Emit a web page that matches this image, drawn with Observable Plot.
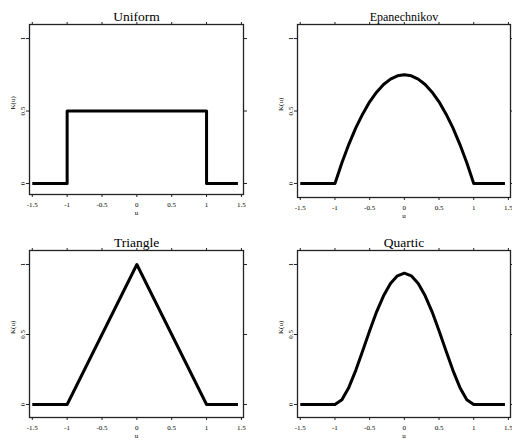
<!DOCTYPE html>
<html>
<head>
<meta charset="utf-8">
<script src="https://cdn.jsdelivr.net/npm/d3@7"></script>
<script src="https://cdn.jsdelivr.net/npm/@observablehq/plot@0.6"></script>
<style>
  html, body { margin: 0; padding: 0; background: #fff; }
  #wrap { position: relative; width: 512px; height: 442px; overflow: hidden; background: #fff; }
  .panel { position: absolute; width: 256px; height: 221px; }
  #wrap svg, #wrap svg text { font-family: "Liberation Serif", "DejaVu Serif", serif !important; }
</style>
</head>
<body>
<div id="wrap"></div>
<script>
// ---- data ----
const titles = ["Uniform", "Epanechnikov", "Triangle", "Quartic"];

const uniformU = [-1.5, -1, -1, 1, 1, 1.45];
const uniformK = [0, 0, 0.5, 0.5, 0, 0];

const triangleU = [-1.5, -1, 0, 1, 1.45];
const triangleK = [0, 0, 1, 0, 0];

const smoothU = [-1.5, -1, -0.9, -0.8, -0.7, -0.6, -0.5, -0.4, -0.3, -0.2, -0.1, 0,
                 0.1, 0.2, 0.3, 0.4, 0.5, 0.6, 0.7, 0.8, 0.9, 1, 1.45];
const epanK = [0, 0, 0.143, 0.27, 0.383, 0.48, 0.563, 0.63, 0.683, 0.72, 0.743, 0.75,
               0.743, 0.72, 0.683, 0.63, 0.563, 0.48, 0.383, 0.27, 0.143, 0, 0];
const quarticK = [0, 0, 0.034, 0.122, 0.244, 0.384, 0.527, 0.662, 0.776, 0.864, 0.919, 0.938,
                  0.919, 0.864, 0.776, 0.662, 0.527, 0.384, 0.244, 0.122, 0.034, 0, 0];

const xTickValues = [-1.5, -1, -0.5, 0, 0.5, 1, 1.5];
const xTickLabels = ["-1.5", "-1", "-0.5", "0", "0.5", "1", "1.5"];
const yTickValues = [0, 0.5, 1];
const yTickLabels = ["0", "0.5", "1"];
const xLabel = "u";
const yLabel = "K(u)";

// ---- layout per panel ----
const panels = [
  {u: uniformU, k: uniformK, left: 0, top: 0, mL: 29, mR: 13, mT: 24, mB: 27, yDom: [-0.076, 1.097], tSize: 13.5},
  {u: smoothU, k: epanK, left: 256, top: 0, mL: 41, mR: 2, mT: 24, mB: 24, yDom: [-0.097, 1.097], tSize: 12},
  {u: triangleU, k: triangleK, left: 0, top: 221, mL: 29, mR: 13, mT: 29, mB: 25, yDom: [-0.093, 1.1], tSize: 13.5},
  {u: smoothU, k: quarticK, left: 256, top: 221, mL: 41, mR: 2, mT: 29, mB: 25, yDom: [-0.093, 1.1], tSize: 13.5}
];

const serif = "'Liberation Serif', 'DejaVu Serif', serif";
const wrap = document.getElementById("wrap");
const fmtX = d => xTickLabels[xTickValues.indexOf(d)];
const fmtY = d => yTickLabels[yTickValues.indexOf(d)];

panels.forEach((p, i) => {
  const data = p.u.map((u, j) => ({u, k: p.k[j]}));
  const chart = Plot.plot({
    width: 256,
    height: 221,
    marginLeft: p.mL,
    marginRight: p.mR,
    marginTop: p.mT,
    marginBottom: p.mB,
    style: {background: "#fff", fontFamily: serif, fontSize: "7px", color: "#000", overflow: "visible"},
    x: {domain: [-1.54, 1.53]},
    y: {domain: p.yDom},
    marks: [
      Plot.axisX({anchor: "bottom", ticks: xTickValues, tickFormat: fmtX, tickSize: 3, tickPadding: 5, label: null, fontSize: 7, fill: "#000", stroke: "#222"}),
      Plot.axisX({anchor: "top", ticks: xTickValues, tickFormat: () => "", tickSize: 3, label: null, stroke: "#222"}),
      Plot.axisY({anchor: "left", ticks: yTickValues, tickFormat: fmtY, tickSize: 3, tickPadding: 2, tickRotate: -90, label: null, fontSize: 7, fill: "#000", stroke: "#222"}),
      Plot.axisY({anchor: "right", ticks: yTickValues, tickFormat: () => "", tickSize: 3, label: null, stroke: "#222"}),
      Plot.frame({stroke: "#222", strokeWidth: 1.3}),
      Plot.line(data, {x: "u", y: "k", stroke: "#000", strokeWidth: 3, strokeLinejoin: "round", strokeLinecap: "butt"}),
      Plot.text([titles[i]], {frameAnchor: "top", text: d => d, dy: -4, lineAnchor: "bottom", fontSize: p.tSize, fontFamily: serif, fill: "#000"}),
      Plot.text([xLabel], {frameAnchor: "bottom", text: d => d, dy: 16, lineAnchor: "top", fontSize: 7, fontFamily: serif, fill: "#000"}),
      Plot.text([yLabel], {frameAnchor: "left", text: d => d, dx: -17, rotate: -90, fontSize: 7, fontFamily: serif, fill: "#000"})
    ]
  });
  const div = document.createElement("div");
  div.className = "panel";
  div.style.left = p.left + "px";
  div.style.top = p.top + "px";
  div.appendChild(chart);
  wrap.appendChild(div);
});
</script>
</body>
</html>
